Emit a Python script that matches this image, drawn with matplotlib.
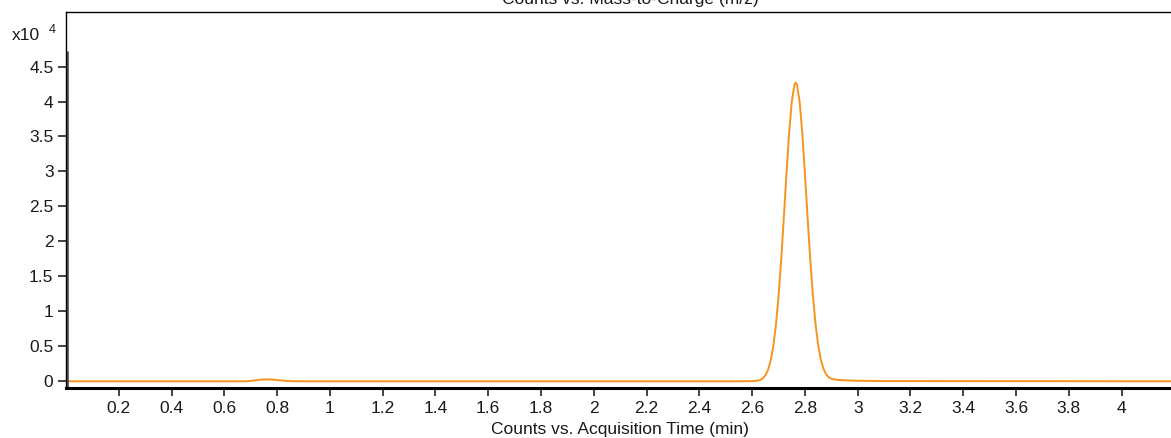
import matplotlib
matplotlib.use("Agg")
import matplotlib.pyplot as plt

plt.rcParams['font.family'] = ['Liberation Sans', 'DejaVu Sans']

# Acquisition time (min) and counts (x10^4)
time_min = [0.00, 0.60, 0.68, 0.70, 0.72, 0.74, 0.76, 0.78, 0.80, 0.82, 0.84, 0.86, 0.90,
            2.55, 2.60, 2.62, 2.63, 2.64, 2.65, 2.66, 2.67, 2.68, 2.69, 2.70, 2.71,
            2.72, 2.73, 2.74, 2.75, 2.76, 2.765, 2.77, 2.78, 2.79, 2.80, 2.81, 2.82,
            2.83, 2.84, 2.85, 2.86, 2.87, 2.88, 2.89, 2.90, 2.92, 2.95, 3.00, 3.10,
            4.20]
counts_e4 = [0.000, 0.000, 0.000, 0.005, 0.015, 0.024, 0.027, 0.025, 0.018, 0.010, 0.004, 0.001, 0.000,
             0.000, 0.002, 0.008, 0.019, 0.041, 0.084, 0.161, 0.292, 0.498, 0.801, 1.215, 1.736,
             2.338, 2.966, 3.545, 3.994, 4.238, 4.270, 4.238, 3.994, 3.545, 2.966, 2.345, 1.750,
             1.235, 0.825, 0.520, 0.315, 0.180, 0.100, 0.058, 0.036, 0.022, 0.014, 0.008, 0.003,
             0.000]

x_ticks = [0.2, 0.4, 0.6, 0.8, 1.0, 1.2, 1.4, 1.6, 1.8, 2.0, 2.2, 2.4, 2.6, 2.8, 3.0,
           3.2, 3.4, 3.6, 3.8, 4.0]
x_ticklabels = ['0.2', '0.4', '0.6', '0.8', '1', '1.2', '1.4', '1.6', '1.8', '2', '2.2',
                '2.4', '2.6', '2.8', '3', '3.2', '3.4', '3.6', '3.8', '4']
y_ticks = [0, 0.5, 1, 1.5, 2, 2.5, 3, 3.5, 4, 4.5]
y_ticklabels = ['0', '0.5', '1', '1.5', '2', '2.5', '3', '3.5', '4', '4.5']

FS = 12.5
W, H = 1171, 438
fig = plt.figure(figsize=(W / 100, H / 100), dpi=100)
ax = fig.add_axes([66 / W, 1 - 388 / H, 1 - 66 / W + 0.002, (388 - 12) / H])

ax.plot(time_min, counts_e4, color='#F7941D', lw=1.4, solid_joinstyle='round')

ax.set_xlim(0, 4.196)
ax.set_ylim(-0.096, 5.28)

ax.set_xticks(x_ticks)
ax.set_xticklabels(x_ticklabels)
ax.set_yticks(y_ticks)
ax.set_yticklabels(y_ticklabels)
ax.tick_params(axis='both', direction='out', length=6, width=1.2, color='#222222',
               labelsize=FS, labelcolor='#1a1a1a')
ax.tick_params(axis='x', pad=3.5)
ax.tick_params(axis='y', pad=3)

for s in ['top', 'left', 'right']:
    ax.spines[s].set_linewidth(1.0)
    ax.spines[s].set_color('black')
ax.spines['right'].set_visible(False)
ax.spines['bottom'].set_linewidth(2.2)
ax.spines['bottom'].set_color('black')

# thicker grey y-axis line covering the data range
ax.plot([0.004, 0.004], [-0.096, 4.72], color='#555555', lw=2.0,
        transform=ax.transData, clip_on=False, solid_capstyle='butt')

ax.set_xlabel('Counts vs. Acquisition Time (min)', fontsize=FS, labelpad=4, color='#1a1a1a')

fig.text(12 / W, 1 - 35 / H, 'x10', fontsize=FS, color='#1a1a1a', va='center', ha='left')
fig.text(49 / W, 1 - 30 / H, '4', fontsize=9, color='#1a1a1a', va='center', ha='left')

fig.text(630 / W, 1 - 4 / H, 'Counts vs. Mass-to-Charge (m/z)', fontsize=FS,
         color='#1a1a1a', ha='center', va='baseline')

fig.savefig('out.png', dpi=100)
